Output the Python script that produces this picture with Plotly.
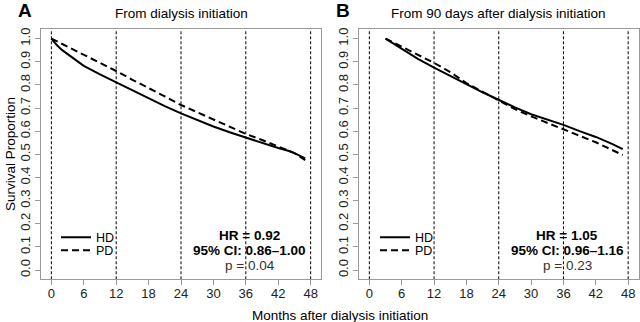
import plotly.graph_objects as go

# ---- data ----
months_a = [0, 1, 2, 3, 4.5, 6, 9, 12, 15, 18, 21, 24, 27, 30, 33, 36, 39, 42, 44, 45, 47]
hd_a = [1.0, 0.972, 0.950, 0.932, 0.905, 0.882, 0.845, 0.810, 0.775, 0.742, 0.708,
        0.677, 0.648, 0.620, 0.595, 0.572, 0.550, 0.527, 0.514, 0.505, 0.482]
months_a_pd = [0, 3, 6, 9, 12, 15, 18, 21, 24, 27, 30, 33, 36, 39, 42, 45, 47]
pd_a = [1.0, 0.965, 0.932, 0.897, 0.860, 0.822, 0.787, 0.750, 0.713, 0.682, 0.650,
        0.618, 0.588, 0.562, 0.535, 0.505, 0.475]

months_b = [3, 6, 9, 12, 15, 18, 21, 24, 27, 30, 33, 36, 39, 42, 45, 47]
hd_b = [1.0, 0.955, 0.912, 0.875, 0.838, 0.803, 0.768, 0.735, 0.703, 0.673, 0.650,
        0.627, 0.600, 0.575, 0.545, 0.522]
pd_b = [1.0, 0.965, 0.930, 0.895, 0.855, 0.808, 0.770, 0.733, 0.695, 0.664, 0.635,
        0.607, 0.580, 0.552, 0.520, 0.497]

x_ticks = [0, 6, 12, 18, 24, 30, 36, 42, 48]
y_ticks = [0.0, 0.1, 0.2, 0.3, 0.4, 0.5, 0.6, 0.7, 0.8, 0.9, 1.0]
ref_lines = [0, 12, 24, 36, 48]
panel_titles = ["From dialysis initiation", "From 90 days after dialysis initiation"]
panel_letters = ["A", "B"]
stats_a = ["HR = 0.92", "95% CI: 0.86\u20131.00", "p = 0.04"]
stats_b = ["HR = 1.05", "95% CI: 0.96\u20131.16", "p = 0.23"]

FONT = "Liberation Sans, Arial, sans-serif"
W, H = 640, 322

fig = go.Figure()

line_w = 2
DASH = "7px,4px"
fig.add_trace(go.Scatter(x=months_a, y=hd_a, mode="lines", name="HD",
                         line=dict(color="black", width=line_w), xaxis="x", yaxis="y",
                         legend="legend"))
fig.add_trace(go.Scatter(x=months_a_pd, y=pd_a, mode="lines", name="PD",
                         line=dict(color="black", width=line_w, dash=DASH),
                         xaxis="x", yaxis="y", legend="legend2"))
fig.add_trace(go.Scatter(x=months_b, y=hd_b, mode="lines", name="HD",
                         line=dict(color="black", width=line_w), xaxis="x2", yaxis="y2",
                         legend="legend3"))
fig.add_trace(go.Scatter(x=months_b, y=pd_b, mode="lines", name="PD",
                         line=dict(color="black", width=line_w, dash=DASH),
                         xaxis="x2", yaxis="y2", legend="legend4"))

# vertical reference lines
shapes = []
for xr, yr in (("x", "y domain"), ("x2", "y2 domain")):
    for v in ref_lines:
        shapes.append(dict(type="line", xref=xr, yref=yr, x0=v, x1=v, y0=0, y1=1,
                           line=dict(color="black", width=1, dash="3px,2px"), layer="below"))

ydom = [1 - 279 / H, 1 - 27.5 / H]
axis_common = dict(showgrid=False, zeroline=False, showline=True, mirror=True,
                   linecolor="#9a9a9a", linewidth=1, ticks="outside", ticklen=5,
                   tickcolor="#9a9a9a", tickfont=dict(family=FONT, size=13, color="#222"))

xa = dict(axis_common, range=[-1.92, 49.92], tickvals=x_ticks, ticklabelstandoff=-3)
ya = dict(axis_common, range=[-0.04, 1.04], tickvals=y_ticks, tickformat=".1f",
          tickangle=-90)

annotations = []
for i, (ax, title, letter, stats) in enumerate(
        ((("x", "y"), panel_titles[0], panel_letters[0], stats_a),
         (("x2", "y2"), panel_titles[1], panel_letters[1], stats_b))):
    annotations.append(dict(xref=f"{ax[0]} domain", yref="paper", x=0.5, y=1 - 12 / H,
                            text=title, showarrow=False, xanchor="center", yanchor="middle",
                            font=dict(family=FONT, size=13.5, color="black")))
    annotations.append(dict(xref="paper", yref="paper",
                            x=(25 if i == 0 else 343) / W, y=1 - 9 / H,
                            text=f"<b>{letter}</b>", showarrow=False, xanchor="center",
                            yanchor="middle", font=dict(family=FONT, size=19, color="black")))
    for j, (txt, yv) in enumerate(zip(stats, [0.147, 0.086, 0.021])):
        annotations.append(dict(xref=ax[0], yref=ax[1], x=36.7, y=yv,
                                text=(f"<b>{txt}</b>" if j < 2 else txt), showarrow=False,
                                xanchor="center", yanchor="middle",
                                font=dict(family=FONT, size=13.5,
                                          color="black" if j < 2 else "#333")))

annotations.append(dict(xref="paper", yref="paper", x=340 / W, y=1 - 315 / H,
                        text="Months after dialysis initiation", showarrow=False,
                        xanchor="center", yanchor="middle",
                        font=dict(family=FONT, size=13.5, color="black")))
annotations.append(dict(xref="paper", yref="paper", x=10 / W, y=1 - 153 / H,
                        text="Survival Proportion", showarrow=False, textangle=-90,
                        xanchor="center", yanchor="middle",
                        font=dict(family=FONT, size=13.5, color="black")))

legend_common = dict(bgcolor="rgba(0,0,0,0)", borderwidth=0,
                     font=dict(family=FONT, size=12.5, color="black"),
                     xanchor="left", yanchor="top", tracegroupgap=0, itemwidth=30)

fig.update_layout(
    width=W, height=H, margin=dict(l=0, r=0, t=0, b=0),
    paper_bgcolor="white", plot_bgcolor="white", showlegend=True,
    xaxis=dict(xa, domain=[41 / W, 321 / W], anchor="y"),
    yaxis=dict(ya, domain=ydom, anchor="x"),
    xaxis2=dict(xa, domain=[359 / W, 638.5 / W], anchor="y2"),
    yaxis2=dict(ya, domain=ydom, anchor="x2"),
    legend=dict(legend_common, x=56 / W, y=1 - 222 / H),
    legend2=dict(legend_common, x=56 / W, y=1 - 235 / H),
    legend3=dict(legend_common, x=375 / W, y=1 - 222 / H),
    legend4=dict(legend_common, x=375 / W, y=1 - 235 / H),
    shapes=shapes, annotations=annotations,
)

fig.write_html("out.html",
               config={"displayModeBar": False},
               post_script="document.body.style.margin='0';"
                           "document.body.style.overflow='hidden';")
